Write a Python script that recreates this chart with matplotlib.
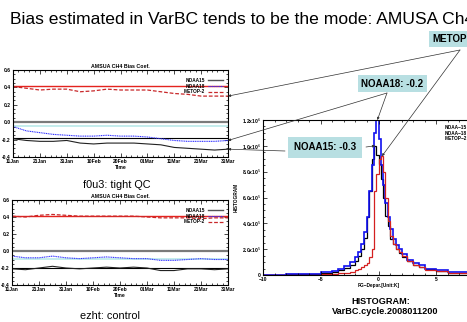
import numpy as np
import matplotlib
matplotlib.use('Agg')
import matplotlib.pyplot as plt
from matplotlib.patches import ConnectionPatch
from matplotlib.ticker import MultipleLocator, FixedLocator, FuncFormatter

plt.rcParams['font.family'] = ['Liberation Sans', 'DejaVu Sans']

W, H = 467, 322

# time axis: days after 11 Jan 2008
days = [0, 5, 10, 15, 20, 25, 30, 35, 40, 45, 50, 55, 60, 65, 70, 75, 80]
date_ticks = [0, 10, 20, 30, 40, 50, 60, 70, 80]
date_labels = ['11Jan', '21Jan', '31Jan', '10Feb', '20Feb', '01Mar', '11Mar', '21Mar', '31Mar']

# f0u3: tight QC
tight_metop = [0.41, 0.39, 0.37, 0.38, 0.38, 0.35, 0.36, 0.38, 0.37, 0.37, 0.37, 0.35, 0.33, 0.32, 0.30, 0.30, 0.30]
tight_noaa18 = [-0.05, -0.10, -0.12, -0.14, -0.15, -0.16, -0.16, -0.15, -0.16, -0.16, -0.17, -0.19, -0.21, -0.22, -0.22, -0.22, -0.21]
tight_noaa15 = [-0.19, -0.21, -0.22, -0.22, -0.21, -0.24, -0.25, -0.24, -0.24, -0.24, -0.25, -0.26, -0.29, -0.30, -0.31, -0.32, -0.31]
tight_levels = [0.42, 0.0, -0.04, -0.18]   # red, grey, cyan, black

# ezht: control
ctrl_metop = [0.41, 0.40, 0.42, 0.43, 0.42, 0.41, 0.41, 0.41, 0.41, 0.41, 0.40, 0.39, 0.39, 0.39, 0.38, 0.39, 0.39]
ctrl_noaa18 = [-0.06, -0.08, -0.08, -0.06, -0.08, -0.09, -0.08, -0.07, -0.08, -0.09, -0.09, -0.11, -0.11, -0.10, -0.09, -0.10, -0.10]
ctrl_noaa15 = [-0.21, -0.22, -0.20, -0.18, -0.20, -0.21, -0.20, -0.19, -0.20, -0.19, -0.20, -0.23, -0.23, -0.21, -0.21, -0.22, -0.21]
ctrl_levels = [0.41, 0.0, -0.09, -0.20]

# histogram of FG departures (counts in 1e5)
hist_edges = [-10, -8, -6, -5, -4, -3.5, -3, -2.5, -2, -1.75, -1.5, -1.25, -1, -0.8, -0.6, -0.4, -0.2, 0,
              0.2, 0.4, 0.6, 0.8, 1, 1.25, 1.5, 1.75, 2, 2.5, 3, 3.5, 4, 5, 6, 8, 10]
hist_noaa15 = [0.02, 0.04, 0.08, 0.15, 0.25, 0.35, 0.55, 0.8, 1.1, 1.5, 2.0, 2.9, 4.5, 6.5, 9.0, 10.0, 9.3,
               8.6, 7.4, 6.0, 4.6, 3.8, 2.8, 2.4, 2.0, 1.7, 1.4, 1.05, 0.8, 0.6, 0.45, 0.3, 0.15, 0.08]
hist_noaa18 = [0.02, 0.05, 0.1, 0.2, 0.3, 0.45, 0.7, 1.0, 1.4, 1.8, 2.4, 3.3, 4.5, 6.5, 8.5, 11.0, 12.0,
               10.5, 8.5, 7.0, 5.6, 4.5, 3.6, 2.8, 2.3, 2.0, 1.6, 1.2, 0.95, 0.75, 0.5, 0.35, 0.2, 0.1]
hist_metop = [0.01, 0.02, 0.03, 0.05, 0.08, 0.12, 0.18, 0.25, 0.35, 0.45, 0.6, 0.75, 0.9, 1.4, 2.0, 6.5, 7.8,
              9.0, 9.2, 8.0, 6.0, 4.2, 3.0, 2.4, 2.0, 1.8, 1.5, 1.1, 0.8, 0.6, 0.4, 0.28, 0.15, 0.08]

RED = '#e4231e'
REDD = '#c8282a'
BLUE = '#3030ff'
CYAN = '#c4ecec'
BOX = '#b8dfe2'

fig = plt.figure(figsize=(W / 100, H / 100), dpi=100)


def px_axes(x0, y0, x1, y1):
    return fig.add_axes([x0 / W, 1 - y1 / H, (x1 - x0) / W, (y1 - y0) / H])


def style(ax):
    ax.tick_params(which='both', direction='in', top=True, right=True, labelsize=3.6, pad=1.5, width=0.5)
    ax.tick_params(which='major', length=2.8)
    ax.tick_params(which='minor', length=1.5)
    for s in ax.spines.values():
        s.set_linewidth(0.8)
    for lab in ax.get_xticklabels() + ax.get_yticklabels():
        lab.set_fontweight('bold')


def bias_panel(ax, metop, noaa18, noaa15, levels):
    ax.axhline(levels[1], color='#7a7a7a', lw=1.6)
    ax.axhline(levels[2], color=CYAN, lw=1.4)
    ax.axhline(levels[0], color=RED, lw=1.0)
    ax.axhline(levels[3], color='black', lw=0.8)
    l15, = ax.plot(days, noaa15, color='#222222', lw=0.8)
    l18, = ax.plot(days, noaa18, color=BLUE, lw=0.8, ls=(0, (1, 0.6)))
    lmt, = ax.plot(days, metop, color=REDD, lw=0.9, ls=(0, (3, 1.5)))
    h15, = ax.plot([], [], color='#555555', lw=1.0)
    ax.set_xlim(0, 80)
    ax.set_ylim(-0.4, 0.6)
    ax.xaxis.set_major_locator(FixedLocator(date_ticks))
    ax.set_xticklabels(date_labels)
    ax.xaxis.set_minor_locator(MultipleLocator(2))
    ax.yaxis.set_major_locator(MultipleLocator(0.2))
    ax.yaxis.set_minor_locator(MultipleLocator(0.05))
    ax.yaxis.set_major_formatter(FuncFormatter(lambda v, p: '%.1f' % (0.0 if abs(v) < 1e-9 else v)))
    ax.set_title('AMSUA CH4 Bias Coef.', fontsize=3.8, fontweight='bold', pad=1.5)
    ax.set_xlabel('Time', fontsize=3.6, fontweight='bold', labelpad=0.5)
    ax.legend([h15, l18, lmt], ['NOAA15', 'NOAA18', 'METOP-2'], loc='upper right',
              bbox_to_anchor=(0.99, 0.94), frameon=False, markerfirst=False,
              handlelength=3.2, handletextpad=0.6, labelspacing=0.15, borderpad=0.1,
              prop={'weight': 'bold', 'size': 3.4})
    style(ax)


ax1 = px_axes(13, 70, 228, 157)
bias_panel(ax1, tight_metop, tight_noaa18, tight_noaa15, tight_levels)
ax2 = px_axes(12, 200, 228, 285)
bias_panel(ax2, ctrl_metop, ctrl_noaa18, ctrl_noaa15, ctrl_levels)

# histogram panel (runs off the right edge like the slide)
axh = px_axes(263, 120, 494, 275)
edges = np.array(hist_edges)
s15 = axh.stairs(np.array(hist_noaa15) * 1e5, edges, color='black', lw=0.9, baseline=None)
s18 = axh.stairs(np.array(hist_noaa18) * 1e5, edges, color='#1010f0', lw=1.2, baseline=None)
smt = axh.stairs(np.array(hist_metop) * 1e5, edges, color='#d42020', lw=0.9, baseline=None)
axh.set_xlim(-10, 10)
axh.set_ylim(0, 1.2e6)
axh.xaxis.set_major_locator(MultipleLocator(5))
axh.xaxis.set_minor_locator(MultipleLocator(1))
axh.yaxis.set_major_locator(MultipleLocator(2e5))
axh.yaxis.set_minor_locator(MultipleLocator(5e4))


def sci(v, p):
    if v <= 1:
        return '0' if abs(v) < 1 else ''
    e = int(np.floor(np.log10(v) + 1e-9))
    return r'%.1fx10$^{%d}$' % (v / 10 ** e, e)


axh.yaxis.set_major_formatter(FuncFormatter(sci))
axh.set_xlabel('FG\u2212Depar.[Unit:K]', fontsize=3.4, fontweight='bold', labelpad=1)
axh.set_ylabel('HISTOGRAM', fontsize=3.4, fontweight='bold', labelpad=2)
axh.legend([s15, s18, smt], ['NOAA\u221215', 'NOAA\u221218', 'METOP\u22122'], loc='upper left',
           bbox_to_anchor=(0.775, 0.985), frameon=False, markerfirst=False, handlelength=3,
           labelspacing=0.1, borderpad=0.1, prop={'weight': 'bold', 'size': 3.4})
style(axh)

# slide texts
fig.text(10 / W, 1 - 20 / H, 'Bias estimated in VarBC tends to be the mode: AMUSA Ch4',
         fontsize=12.6, va='center', ha='left')
fig.text(117 / W, 1 - 185 / H, 'f0u3: tight QC', fontsize=7.8, ha='center', va='center')
fig.text(110 / W, 1 - 316 / H, 'ezht: control', fontsize=7.8, ha='center', va='center')
fig.text(381 / W, 1 - 301 / H, 'HISTOGRAM:', fontsize=6.6, fontweight='bold', ha='center', va='center')
fig.text(385 / W, 1 - 312 / H, 'VarBC.cycle.2008011200', fontsize=6.6, fontweight='bold',
         ha='center', va='center')

boxkw = dict(fontsize=7, fontweight='bold', va='center', ha='left')
fig.text(432 / W, 1 - 39 / H, 'METOP',
         bbox=dict(boxstyle='square,pad=0.35', fc=BOX, ec='none'), **boxkw)
fig.text(361 / W, 1 - 83.5 / H, 'NOAA18: -0.2',
         bbox=dict(boxstyle='square,pad=0.35', fc=BOX, ec='none'), **boxkw)
fig.text(294 / W, 1 - 147.5 / H, 'NOAA15: -0.3',
         bbox=dict(boxstyle='square,pad=0.6', fc=BOX, ec='none'), **boxkw)


def link(start_px, ax, xy, arrow=True):
    cp = ConnectionPatch(xyA=(start_px[0] / W, 1 - start_px[1] / H), coordsA='figure fraction',
                         xyB=xy, coordsB=ax.transData, arrowstyle='-|>' if arrow else '-',
                         mutation_scale=3.5, lw=0.5, color='#303030', clip_on=False)
    fig.add_artist(cp)


link((460, 50), ax1, (80, tight_metop[-1]))
link((460, 50), axh, (0.3, hist_metop[18] * 1e5))
link((387, 93), ax1, (80, tight_noaa18[-1]))
link((387, 93), axh, (-0.1, hist_noaa18[16] * 1e5))
link((285, 151), ax1, (80, tight_noaa15[-1]))
link((366, 147), axh, (-0.3, hist_noaa15[15] * 1e5))

fig.savefig('out.png', dpi=100)
